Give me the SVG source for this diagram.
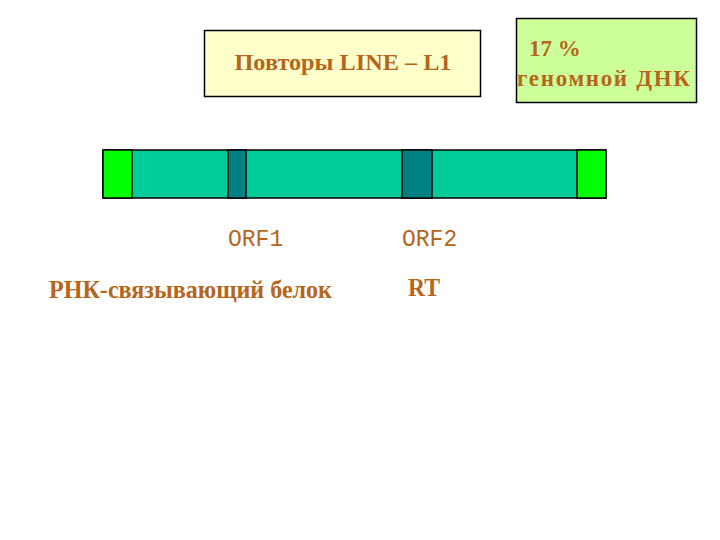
<svg xmlns="http://www.w3.org/2000/svg" width="720" height="540" viewBox="0 0 720 540">
<style>
.t{fill:#B5661C;font-family:"Liberation Serif",serif;font-weight:bold;font-size:23px}
.m{fill:#B5661C;font-family:"Liberation Mono",monospace;font-size:23px}
.s{stroke:#000;stroke-width:1.5}
</style>
<rect width="720" height="540" fill="#fff"/>
<g id="title">
<rect x="204.5" y="30.5" width="276" height="66" fill="#FFFFCC" stroke="#000" stroke-width="1.5"/>
<text class="t" x="343" y="70" text-anchor="middle" textLength="217" lengthAdjust="spacingAndGlyphs">Повторы LINE – L1</text>
</g>
<g id="percent">
<rect x="516.5" y="18.5" width="180" height="84" fill="#CCFF99" stroke="#000" stroke-width="1.5"/>
<text class="t" x="529" y="56">17 %</text>
<text class="t" x="517" y="86" textLength="173" lengthAdjust="spacing">геномной ДНК</text>
</g>
<g id="bar">
<rect x="103" y="150" width="503" height="48" fill="#00CC99" class="s"/>
<rect x="103" y="150" width="29" height="48" fill="#00FF00" class="s"/>
<rect x="577" y="150" width="29" height="48" fill="#00FF00" class="s"/>
<rect x="228" y="150" width="18" height="48" fill="#008080" class="s"/>
<rect x="402" y="150" width="30" height="48" fill="#008080" class="s"/>
</g>
<g id="labels">
<text class="m" x="228" y="246">ORF1</text>
<text class="m" x="402" y="246">ORF2</text>
<text class="t" x="49" y="298" style="font-size:26px" textLength="283" lengthAdjust="spacingAndGlyphs">РНК-связывающий белок</text>
<text class="t" x="408" y="296" style="font-size:25px" textLength="32" lengthAdjust="spacingAndGlyphs">RT</text>
</g>
</svg>
